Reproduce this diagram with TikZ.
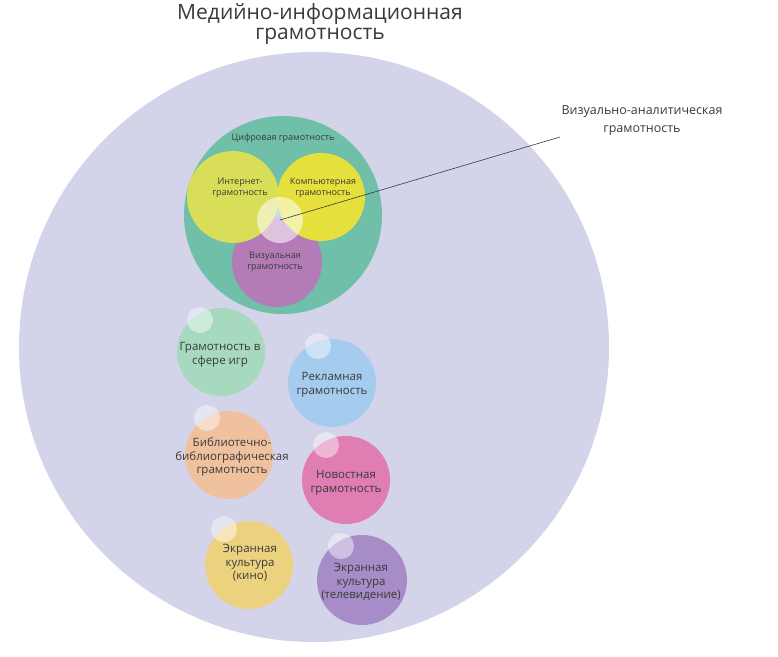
\documentclass[tikz,border=0pt]{standalone}
\usepackage{fontspec}
\setmainfont{Open Sans}
\definecolor{mediabg}{HTML}{D3D3EA}
\definecolor{digital}{HTML}{6FBFA9}
\definecolor{internet}{HTML}{D8DE58}
\definecolor{computer}{HTML}{E6E03C}
\definecolor{visual}{HTML}{B47CB6}
\definecolor{games}{HTML}{A7D9BF}
\definecolor{advert}{HTML}{A5CCEE}
\definecolor{library}{HTML}{F0C19F}
\definecolor{news}{HTML}{E07DB2}
\definecolor{kino}{HTML}{ECD27F}
\definecolor{tv}{HTML}{A78DC7}
\definecolor{labeltext}{HTML}{3A3A3A}
\begin{document}
\begin{tikzpicture}[x=1pt,y=-1pt,
    blob/.style={circle,inner sep=0pt,minimum size=#1,align=center,text=labeltext},
    hl/.style={circle,inner sep=0pt,minimum size=26pt,fill=white,fill opacity=0.45},
    small/.style={align=center,text=labeltext,font=\fontsize{9}{10.5}\selectfont},
    mid/.style={align=center,text=labeltext,font=\fontsize{11.5}{13.5}\selectfont}]
  \useasboundingbox (0,0) rectangle (778,656);
  \fill[white] (0,0) rectangle (778,656);

  % outer circle and title
  \node[blob=590pt,fill=mediabg] (media) at (314,347) {};
  \node[align=center,text=labeltext,font=\fontsize{21}{20}\selectfont] (title) at (320,24)
    {Медийно-информационная\\грамотность};

  % digital literacy
  \node[blob=198pt,fill=digital] (digital) at (283,215) {};
  \node[small] (digitaltext) at (283,138) {Цифровая грамотность};
  \node[blob=90pt,fill=visual] (visual) at (277,262) {};
  \node[blob=92pt,fill=internet] (internet) at (233,197) {};
  \node[blob=88pt,fill=computer] (computer) at (321,197) {};
  \node[blob=46pt,fill=white,fill opacity=0.55] (va) at (280,220) {};
  \node[small] (internettext) at (240,188) {Интернет-\\грамотность};
  \node[small] (computertext) at (323,188) {Компьютерная\\грамотность};
  \node[small] (visualtext) at (275,262) {Визуальная\\грамотность};

  % visual-analytic label
  \node[align=center,text=labeltext,font=\fontsize{12.5}{18}\selectfont] (vatext) at (642,121)
    {Визуально-аналитическая\\грамотность};
  \coordinate (vaend) at (560,137);
  \draw[labeltext,line width=0.6pt] (va.center) -- (vaend);

  % other literacies
  \node[blob=88pt,fill=games] (games) at (221,352) {};
  \node[hl] (games-hl) at (200,320) {};
  \node[mid] (gamestext) at (220,355) {Грамотность в\\сфере игр};

  \node[blob=88pt,fill=advert] (advert) at (332,383) {};
  \node[hl] (advert-hl) at (318,346) {};
  \node[mid] (adverttext) at (332,385) {Рекламная\\грамотность};

  \node[blob=88pt,fill=library] (library) at (229,455) {};
  \node[hl] (library-hl) at (207,418) {};
  \node[mid] (librarytext) at (232,457) {Библиотечно-\\библиографическая\\грамотность};

  \node[blob=88pt,fill=news] (news) at (346,480) {};
  \node[hl] (news-hl) at (326,445) {};
  \node[mid] (newstext) at (346,483) {Новостная\\грамотность};

  \node[blob=88pt,fill=kino] (kino) at (249,565) {};
  \node[hl] (kino-hl) at (224,529) {};
  \node[mid] (kinotext) at (250,563) {Экранная\\культура\\(кино)};

  \node[blob=90pt,fill=tv] (tv) at (362,580) {};
  \node[hl] (tv-hl) at (341,546) {};
  \node[mid] (tvtext) at (361,582) {Экранная\\культура\\(телевидение)};
\end{tikzpicture}
\end{document}
